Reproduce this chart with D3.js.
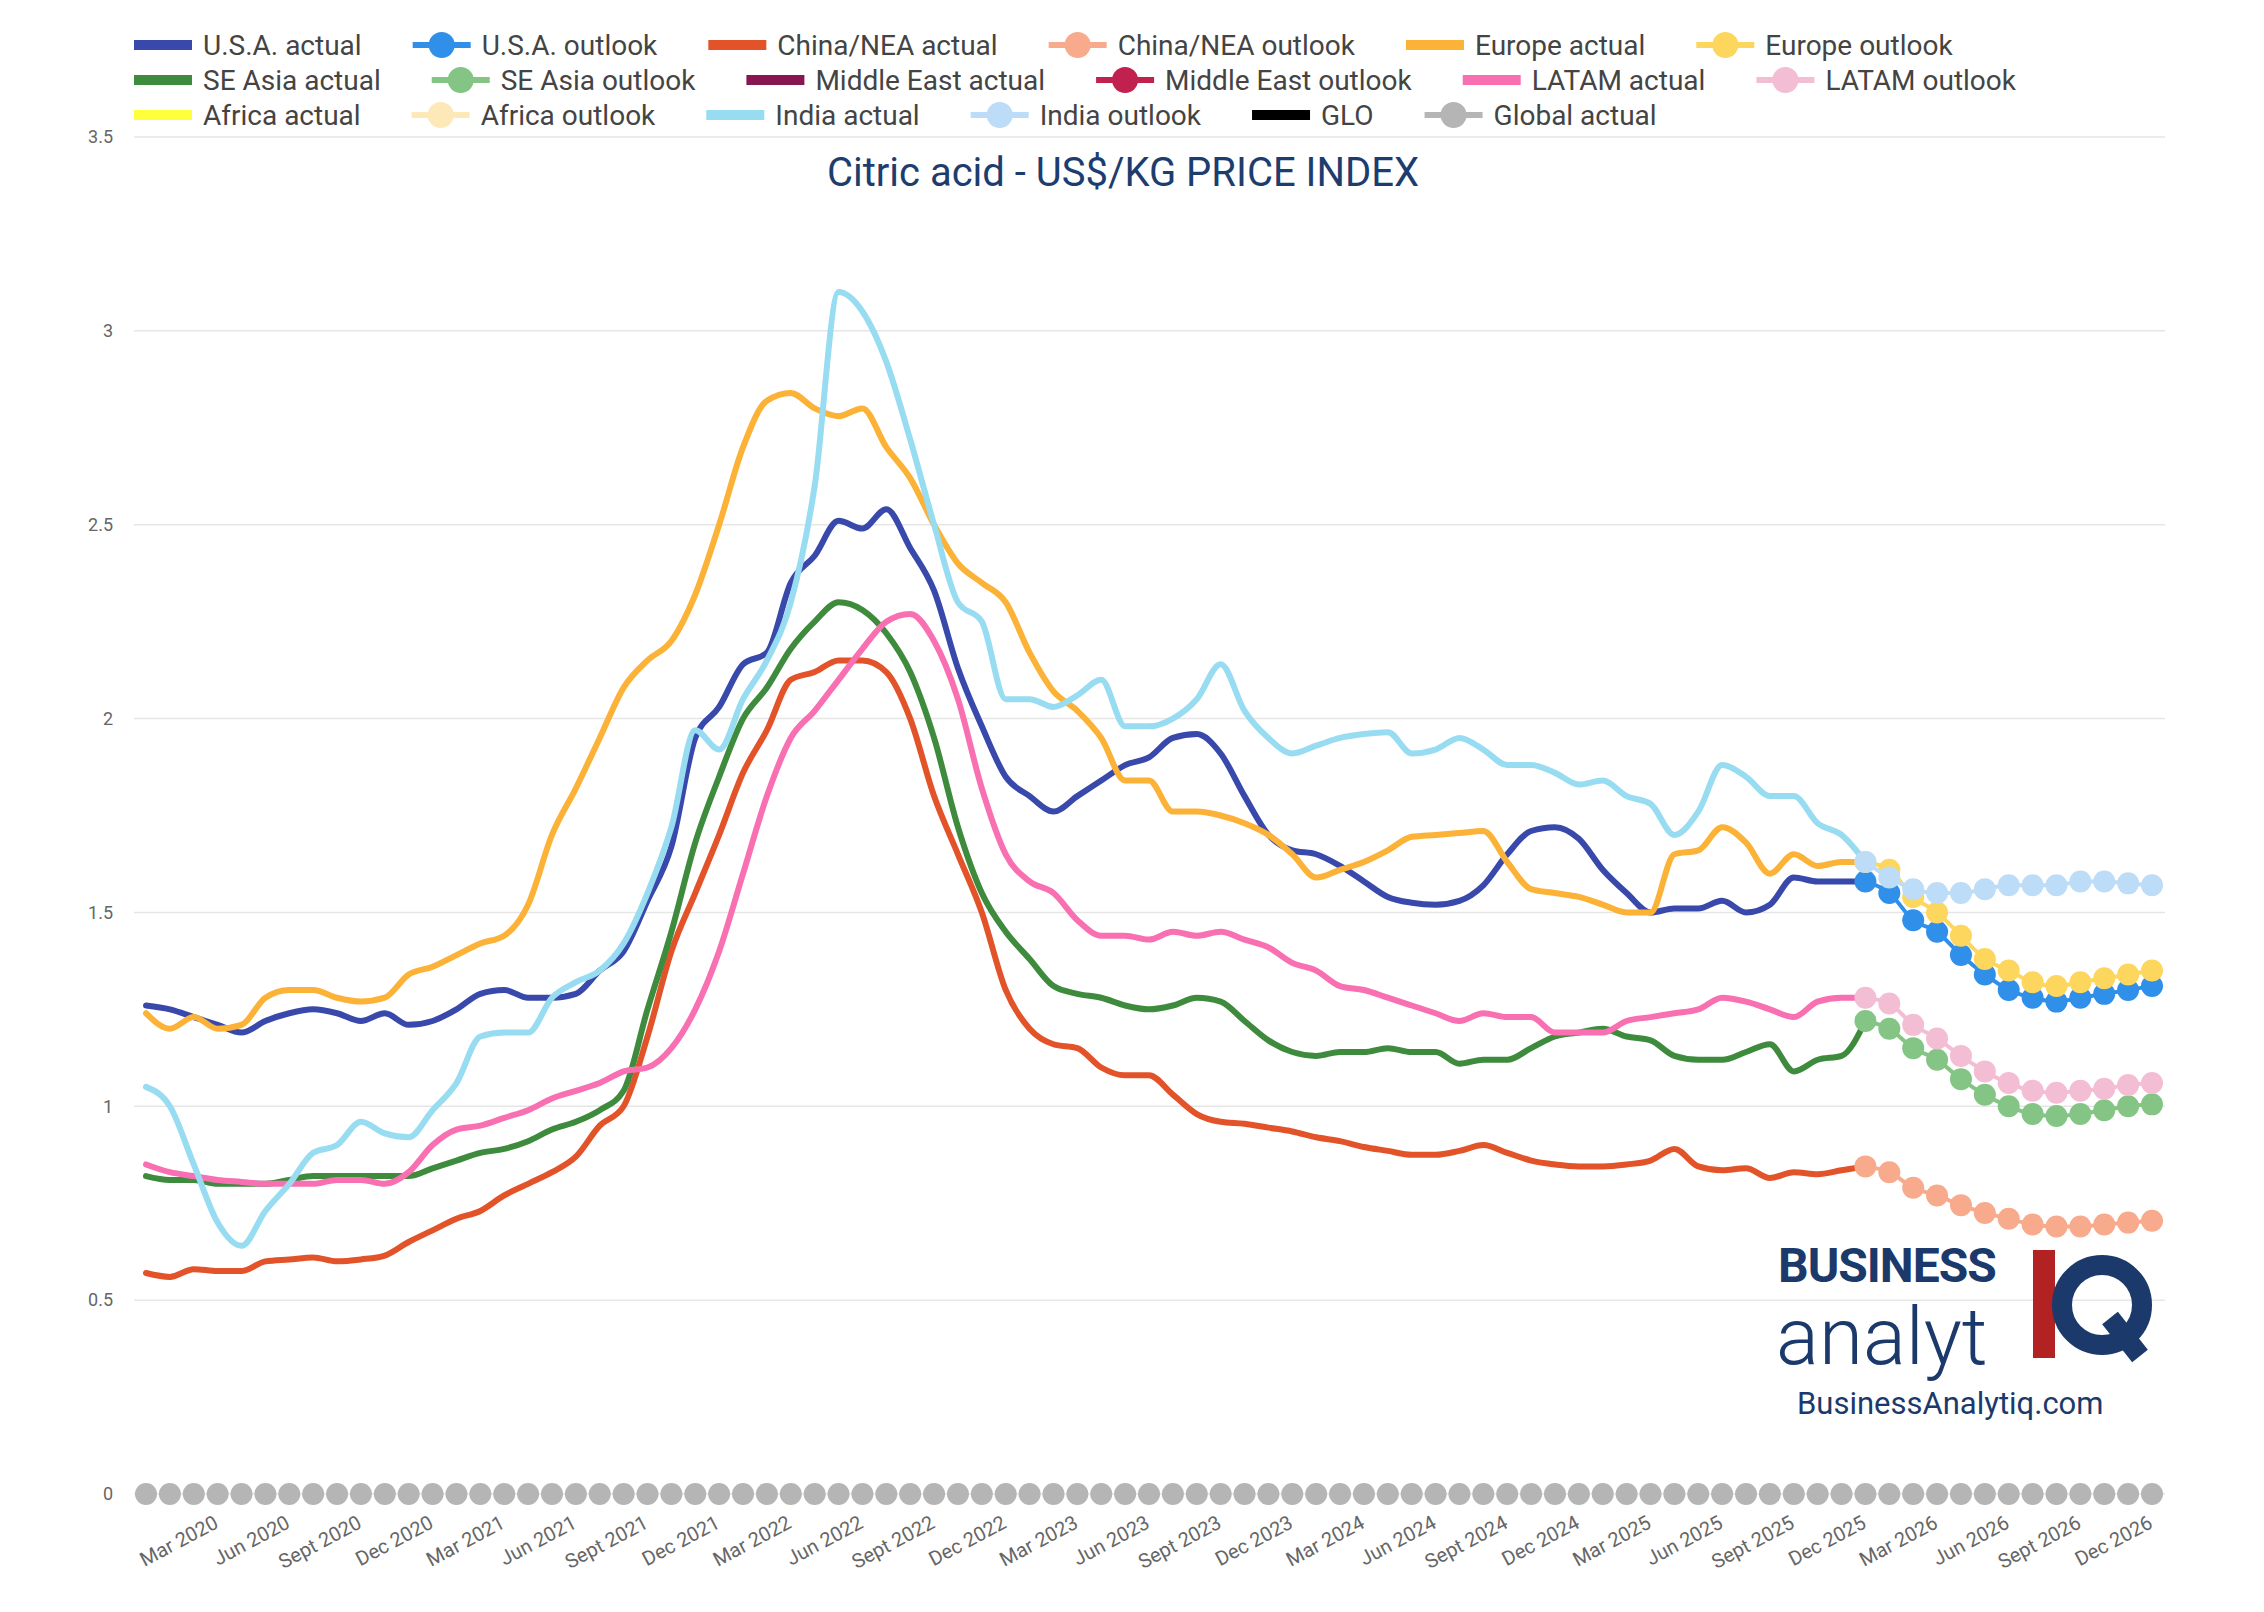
<!DOCTYPE html>
<html>
<head>
<meta charset="utf-8">
<script src="https://d3js.org/d3.v7.min.js"></script>
<style>
body{margin:0;background:#fff;font-family:Roboto,"Noto Sans",sans-serif;}
</style>
</head>
<body>
<div id="chart"></div>
<script>
// months Dec 2019 .. Dec 2026 (85 points); actual to Dec 2025, outlook Dec 2025 .. Dec 2026
var usaActual = [1.26,1.25,1.23,1.21,1.19,1.22,1.24,1.25,1.24,1.22,
  1.24,1.21,1.22,1.25,1.29,1.30,1.28,1.28,1.29,1.35,
  1.40,1.53,1.67,1.95,2.03,2.14,2.17,2.35,2.42,2.51,
  2.49,2.54,2.44,2.33,2.13,1.98,1.85,1.80,1.76,1.80,
  1.84,1.88,1.90,1.95,1.96,1.91,1.80,1.70,1.66,1.65,
  1.62,1.58,1.54,1.525,1.52,1.53,1.57,1.65,1.71,1.72,
  1.69,1.61,1.55,1.50,1.51,1.51,1.53,1.50,1.52,1.59,
  1.58,1.58,1.58];
var usaOutlook = [1.58,1.55,1.48,1.45,1.39,1.34,1.30,1.28,1.27,1.28,1.29,1.30,1.31];

var chinaActual = [0.57,0.56,0.58,0.575,0.575,0.60,0.605,0.61,0.60,0.605,
  0.615,0.65,0.68,0.71,0.73,0.77,0.80,0.83,0.87,0.95,
  1.00,1.18,1.40,1.55,1.70,1.86,1.97,2.10,2.12,2.15,
  2.15,2.12,2.00,1.80,1.65,1.50,1.30,1.20,1.16,1.15,
  1.10,1.08,1.08,1.03,0.98,0.96,0.955,0.945,0.935,0.92,
  0.91,0.895,0.885,0.875,0.875,0.885,0.90,0.88,0.86,0.85,
  0.845,0.845,0.85,0.86,0.89,0.845,0.835,0.84,0.815,0.83,
  0.825,0.835,0.845];
var chinaOutlook = [0.845,0.83,0.79,0.77,0.745,0.725,0.71,0.695,0.69,0.69,0.695,0.70,0.705];

var europeActual = [1.24,1.20,1.23,1.20,1.21,1.28,1.30,1.30,1.28,1.27,
  1.28,1.34,1.36,1.39,1.42,1.44,1.52,1.70,1.82,1.95,
  2.08,2.15,2.20,2.32,2.50,2.70,2.82,2.84,2.80,2.78,
  2.80,2.70,2.62,2.50,2.40,2.35,2.30,2.17,2.07,2.02,
  1.95,1.84,1.84,1.76,1.76,1.75,1.73,1.70,1.65,1.59,
  1.61,1.63,1.66,1.695,1.70,1.705,1.71,1.63,1.56,1.55,
  1.54,1.52,1.50,1.50,1.65,1.66,1.72,1.68,1.60,1.65,
  1.62,1.63,1.63];
var europeOutlook = [1.63,1.61,1.54,1.50,1.44,1.38,1.35,1.32,1.31,1.32,1.33,1.34,1.35];

var seAsiaActual = [0.82,0.81,0.81,0.80,0.80,0.80,0.81,0.82,0.82,0.82,
  0.82,0.82,0.84,0.86,0.88,0.89,0.91,0.94,0.96,0.99,
  1.04,1.25,1.45,1.68,1.85,2.00,2.08,2.18,2.25,2.30,
  2.28,2.22,2.12,1.95,1.72,1.55,1.45,1.38,1.31,1.29,
  1.28,1.26,1.25,1.26,1.28,1.27,1.22,1.17,1.14,1.13,
  1.14,1.14,1.15,1.14,1.14,1.11,1.12,1.12,1.15,1.18,
  1.19,1.20,1.18,1.17,1.13,1.12,1.12,1.14,1.16,1.09,
  1.12,1.13,1.22];
var seAsiaOutlook = [1.22,1.20,1.15,1.12,1.07,1.03,1.00,0.98,0.975,0.98,0.99,1.00,1.005];

var latamActual = [0.85,0.83,0.82,0.81,0.805,0.80,0.80,0.80,0.81,0.81,
  0.80,0.83,0.90,0.94,0.95,0.97,0.99,1.02,1.04,1.06,
  1.09,1.10,1.15,1.25,1.40,1.60,1.80,1.95,2.02,2.10,
  2.18,2.25,2.27,2.20,2.05,1.82,1.65,1.58,1.55,1.48,
  1.44,1.44,1.43,1.45,1.44,1.45,1.43,1.41,1.37,1.35,
  1.31,1.30,1.28,1.26,1.24,1.22,1.24,1.23,1.23,1.19,
  1.19,1.19,1.22,1.23,1.24,1.25,1.28,1.27,1.25,1.23,
  1.27,1.28,1.28];
var latamOutlook = [1.28,1.265,1.21,1.175,1.13,1.09,1.06,1.04,1.035,1.04,1.045,1.055,1.06];

var indiaActual = [1.05,1.00,0.85,0.70,0.64,0.73,0.80,0.88,0.90,0.96,
  0.93,0.92,0.99,1.06,1.18,1.19,1.19,1.28,1.32,1.35,
  1.42,1.55,1.72,1.97,1.92,2.05,2.15,2.30,2.60,3.10,
  3.05,2.92,2.72,2.50,2.30,2.25,2.05,2.05,2.03,2.06,
  2.10,1.98,1.98,2.00,2.05,2.14,2.02,1.95,1.91,1.93,
  1.95,1.96,1.965,1.91,1.92,1.95,1.92,1.88,1.88,1.86,
  1.83,1.84,1.80,1.78,1.70,1.76,1.88,1.85,1.80,1.80,
  1.73,1.70,1.63];
var indiaOutlook = [1.63,1.59,1.56,1.55,1.55,1.56,1.57,1.57,1.57,1.58,1.58,1.575,1.57];

var globalActual = d3.range(85).map(function(){ return 0; });

var yTicks = [0,0.5,1,1.5,2,2.5,3,3.5];
var monthNames = ["Jan","Feb","Mar","Apr","May","Jun","Jul","Aug","Sept","Oct","Nov","Dec"];

var legendItems = [
  {name:"U.S.A. actual", color:"#3949ab", type:"line"},
  {name:"U.S.A. outlook", color:"#2f8fe9", type:"dot"},
  {name:"China/NEA actual", color:"#e2532a", type:"line"},
  {name:"China/NEA outlook", color:"#f8aa8c", type:"dot"},
  {name:"Europe actual", color:"#fbb236", type:"line"},
  {name:"Europe outlook", color:"#fdd65e", type:"dot"},
  {name:"SE Asia actual", color:"#3e8b3e", type:"line"},
  {name:"SE Asia outlook", color:"#84c586", type:"dot"},
  {name:"Middle East actual", color:"#881650", type:"line"},
  {name:"Middle East outlook", color:"#c1214f", type:"dot"},
  {name:"LATAM actual", color:"#f870b2", type:"line"},
  {name:"LATAM outlook", color:"#f3bdd3", type:"dot"},
  {name:"Africa actual", color:"#ffff3b", type:"line"},
  {name:"Africa outlook", color:"#fde9b8", type:"dot"},
  {name:"India actual", color:"#98dcf1", type:"line"},
  {name:"India outlook", color:"#bcdcf7", type:"dot"},
  {name:"GLO", color:"#000000", type:"line"},
  {name:"Global actual", color:"#b5b5b5", type:"dot"}
];

var W = 2264, H = 1612;
var svg = d3.select("#chart").append("svg").attr("width", W).attr("height", H);

var plotL = 134, plotR = 2165, yTop = 137, yBot = 1494;
var x = d3.scaleLinear().domain([0, 84]).range([146, 2152]);
var y = d3.scaleLinear().domain([0, 3.5]).range([yBot, yTop]);

// grid
svg.append("g").selectAll("line").data(yTicks).enter().append("line")
  .attr("x1", plotL).attr("x2", plotR)
  .attr("y1", function(d){ return y(d); }).attr("y2", function(d){ return y(d); })
  .attr("stroke", "#e6e6e6").attr("stroke-width", 1.5);

// y axis labels
var yAxis = svg.append("g").attr("transform", "translate(" + (plotL - 18) + ",0)")
  .call(d3.axisLeft(y).tickValues(yTicks).tickSize(0).tickFormat(function(d){ return String(d); }));
yAxis.select(".domain").remove();
yAxis.selectAll("text").attr("fill", "#666").style("font-size", "18px").style("font-family", "Roboto");

// x axis labels
function monthLabel(i) {
  var m = (11 + i) % 12, yr = 2019 + Math.floor((11 + i) / 12);
  return monthNames[m] + " " + yr;
}
var xTickIdx = d3.range(3, 85, 3);
svg.append("g").selectAll("text").data(xTickIdx).enter().append("text")
  .attr("transform", function(d){ return "translate(" + (x(d) + 2) + "," + (yBot + 33) + ") rotate(-28)"; })
  .attr("text-anchor", "end")
  .attr("fill", "#666").style("font-size", "20px")
  .text(function(d){ return monthLabel(d); });

var line = d3.line()
  .x(function(d){ return x(d.i); })
  .y(function(d){ return y(d.v); })
  .curve(d3.curveMonotoneX);

function pts(arr, offset) {
  return arr.map(function(v, k){ return {i: k + offset, v: v}; });
}

// global actual dots along zero
svg.append("g").selectAll("circle").data(pts(globalActual, 0)).enter().append("circle")
  .attr("cx", function(d){ return x(d.i); }).attr("cy", function(d){ return y(d.v); })
  .attr("r", 11).attr("fill", "#b5b5b5");

var actualSeries = [
  [usaActual, "#3949ab"],
  [chinaActual, "#e2532a"],
  [europeActual, "#fbb236"],
  [seAsiaActual, "#3e8b3e"],
  [latamActual, "#f870b2"],
  [indiaActual, "#98dcf1"]
];
actualSeries.forEach(function(s){
  svg.append("path").datum(pts(s[0], 0))
    .attr("d", line).attr("fill", "none")
    .attr("stroke", s[1]).attr("stroke-width", 6)
    .attr("stroke-linejoin", "round").attr("stroke-linecap", "round");
});

var outlookSeries = [
  [chinaOutlook, "#f8aa8c"],
  [seAsiaOutlook, "#84c586"],
  [latamOutlook, "#f3bdd3"],
  [usaOutlook, "#2f8fe9"],
  [europeOutlook, "#fdd65e"],
  [indiaOutlook, "#bcdcf7"]
];
outlookSeries.forEach(function(s){
  var g = svg.append("g");
  g.append("path").datum(pts(s[0], 72))
    .attr("d", line).attr("fill", "none")
    .attr("stroke", s[1]).attr("stroke-width", 4);
  g.selectAll("circle").data(pts(s[0], 72)).enter().append("circle")
    .attr("cx", function(d){ return x(d.i); }).attr("cy", function(d){ return y(d.v); })
    .attr("r", 11).attr("fill", s[1]);
});

// title
svg.append("text").attr("x", 1123).attr("y", 186).attr("text-anchor", "middle")
  .attr("fill", "#1d3d6f").style("font-size", "40px").text("Citric acid - US$/KG PRICE INDEX");

// legend (flow layout)
var lg = svg.append("g").style("font-size", "28px");
var lx = 134, ly = 45, maxX = 2160;
legendItems.forEach(function(it){
  var g = lg.append("g");
  var t = g.append("text").attr("x", 69).attr("y", 0).attr("dy", "0.35em")
    .attr("fill", "#444").text(it.name);
  var w = 69 + t.node().getComputedTextLength();
  if (lx + w > maxX) { lx = 134; ly += 35; }
  g.attr("transform", "translate(" + lx + "," + ly + ")");
  if (it.type === "line") {
    g.append("rect").attr("x", 0).attr("y", -5).attr("width", 58).attr("height", 10).attr("fill", it.color);
  } else {
    g.append("rect").attr("x", 0).attr("y", -3).attr("width", 58).attr("height", 6).attr("fill", it.color);
    g.append("circle").attr("cx", 29).attr("cy", 0).attr("r", 13).attr("fill", it.color);
  }
  lx += w + 51;
});

// logo
var logo = svg.append("g");
logo.append("text").attr("x", 1778).attr("y", 1282).attr("fill", "#1b3a6b")
  .style("font-size", "48px").style("font-weight", "bold").style("letter-spacing", "-1px").text("BUSINESS");
logo.append("text").attr("x", 1776).attr("y", 1364).attr("fill", "#1b3a6b")
  .style("font-size", "80px").style("font-weight", "300").text("analyt");
logo.append("rect").attr("x", 2033).attr("y", 1250).attr("width", 22).attr("height", 108).attr("fill", "#b22222");
logo.append("circle").attr("cx", 2102).attr("cy", 1305).attr("r", 40)
  .attr("fill", "none").attr("stroke", "#1b3a6b").attr("stroke-width", 20);
logo.append("line").attr("x1", 2110).attr("y1", 1318).attr("x2", 2140).attr("y2", 1356)
  .attr("stroke", "#1b3a6b").attr("stroke-width", 20);
logo.append("text").attr("x", 1797).attr("y", 1414).attr("fill", "#1b3a6b")
  .style("font-size", "31px").text("BusinessAnalytiq.com");
</script>
</body>
</html>
